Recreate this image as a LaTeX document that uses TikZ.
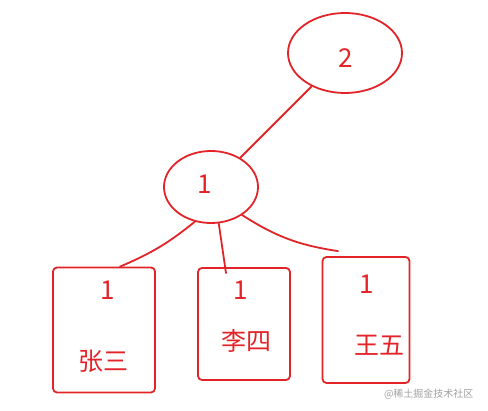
\documentclass[tikz,border=0pt]{standalone}
\usepackage{fontspec}
\setmainfont{Noto Sans CJK SC}
\usetikzlibrary{shapes.geometric}
\definecolor{ink}{RGB}{226,36,40}
\definecolor{mark}{RGB}{160,160,160}

\begin{document}
\begin{tikzpicture}[x=1pt, y=-1pt,
		pen/.style={draw=ink, line width=1.8pt, line cap=round, line join=round},
		bubble/.style={pen, ellipse, inner sep=0pt},
		card/.style={pen, rectangle, rounded corners=4pt, inner sep=0pt},
		digit/.style={text=ink, font=\fontsize{26}{26}\selectfont},
		person/.style={text=ink, font=\fontsize{25}{25}\selectfont}]
		%%%%% START %%%%%
		
		\useasboundingbox (0, 0) rectangle (488, 411);
		
		\node[bubble, minimum width=114, minimum height=80] (two) at (345, 53) {};
		\node[digit] (twolbl) at (346, 58) {2};
		
		\node[bubble, minimum width=94, minimum height=72] (one) at (211, 187) {};
		\node[digit] (onelbl) at (205, 184) {1};
		
		\node[card, minimum width=102, minimum height=125] (zs) at (104, 330) {};
		\node[digit] (zsnum) at (108, 290) {1};
		\node[person] (zsname) at (103, 361) {张三};
		
		\node[card, minimum width=92, minimum height=112] (ls) at (244, 324) {};
		\node[digit] (lsnum) at (241, 290) {1};
		\node[person] (lsname) at (246, 341) {李四};
		
		\node[card, minimum width=87, minimum height=126] (ww) at (366, 320) {};
		\node[digit] (wwnum) at (367, 284) {1};
		\node[person] (wwname) at (379, 345) {王五};
		
		\draw[pen] (two) -- (one);
		\draw[pen] (one.245) to[bend left=8] ([xshift=16pt]zs.north);
		\draw[pen] (one.282) -- ([xshift=-18pt, yshift=-6pt]ls.north);
		\draw[pen] (one.318) to[bend right=12] ([xshift=-28pt, yshift=5pt]ww.north);
		
		\node[text=mark, font=\fontsize{10}{10}\selectfont, anchor=east] (wm) at (477, 394) {@稀土掘金技术社区};
		
		%%%%% END %%%%%
	\end{tikzpicture}
\end{document}
